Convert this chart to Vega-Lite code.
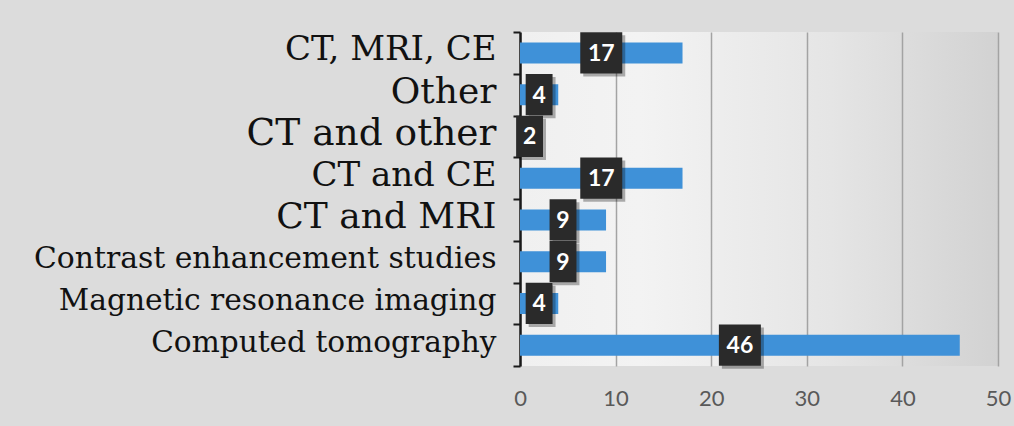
{
  "$schema": "https://vega.github.io/schema/vega-lite/v6.json",
  "width": 478,
  "height": 334,
  "autosize": {"type": "none"},
  "padding": {"left": 520, "top": 32, "right": 16, "bottom": 60},
  "background": "#dcdcdc",
  "config": {
    "view": {
      "stroke": null,
      "fill": {"gradient": "linear", "x1": 0, "y1": 0, "x2": 1, "y2": 0,
        "stops": [
          {"offset": 0, "color": "#f0f0f0"},
          {"offset": 0.25, "color": "#f3f3f3"},
          {"offset": 0.65, "color": "#e5e5e5"},
          {"offset": 1, "color": "#d2d2d2"}
        ]}
    }
  },
  "data": {
    "values": [
      {"method": "CT, MRI, CE", "value": 17},
      {"method": "Other", "value": 4},
      {"method": "CT and other", "value": 2},
      {"method": "CT and CE", "value": 17},
      {"method": "CT and MRI", "value": 9},
      {"method": "Contrast enhancement studies", "value": 9},
      {"method": "Magnetic resonance imaging", "value": 4},
      {"method": "Computed tomography", "value": 46}
    ]
  },
  "encoding": {
    "y": {
      "field": "method",
      "type": "nominal",
      "sort": null,
      "title": null,
      "scale": {"paddingInner": 0, "paddingOuter": 0},
      "axis": {
        "tickBand": "extent",
        "domainColor": "#1a1a1a",
        "domainWidth": 2.5,
        "tickColor": "#1a1a1a",
        "tickWidth": 2,
        "tickSize": 7,
        "labelPadding": 17,
        "labelFont": "DejaVu Serif",
        "labelColor": "#111111",
        "labelFontSize": {
          "condition": [
            {"test": "datum.value === 'CT, MRI, CE'", "value": 34},
            {"test": "datum.value === 'Other'", "value": 36},
            {"test": "datum.value === 'CT and other'", "value": 37.5},
            {"test": "datum.value === 'CT and CE'", "value": 34},
            {"test": "datum.value === 'CT and MRI'", "value": 36},
            {"test": "datum.value === 'Magnetic resonance imaging'", "value": 29.7},
            {"test": "datum.value === 'Computed tomography'", "value": 29.6}
          ],
          "value": 29.8
        },
        "labelBaseline": "middle",
        "labelOffset": -3,
        "labelLimit": 600,
        "grid": false
      }
    }
  },
  "layer": [
    {
      "mark": {"type": "bar", "size": 21, "color": "#3f91d8"},
      "encoding": {
        "x": {
          "field": "value",
          "type": "quantitative",
          "title": null,
          "scale": {"domain": [0, 50], "nice": false},
          "axis": {
            "values": [0, 10, 20, 30, 40, 50],
            "grid": true,
            "gridColor": "#a3a3a3",
            "gridWidth": 1.5,
            "domain": false,
            "ticks": false,
            "labelFlush": false,
            "labelFont": "Lato",
            "labelFontSize": 22,
            "labelColor": "#595959",
            "labelPadding": 22
          }
        }
      }
    },
    {
      "mark": {"type": "point", "filled": true, "color": "#000000", "opacity": 0.3, "xOffset": 3, "yOffset": 3, "size": 1764},
      "encoding": {
        "x": {"field": "value", "type": "quantitative", "stack": "zero", "bandPosition": 0.5},
        "shape": {
          "condition": {"test": "datum.value < 10", "value": "M-0.64,-0.98H0.64V0.98H-0.64Z"},
          "value": "M-1,-0.98H1V0.98H-1Z"
        }
      }
    },
    {
      "mark": {"type": "point", "filled": true, "color": "#2a2a2a", "opacity": 1, "size": 1764},
      "encoding": {
        "x": {"field": "value", "type": "quantitative", "stack": "zero", "bandPosition": 0.5},
        "shape": {
          "condition": {"test": "datum.value < 10", "value": "M-0.64,-0.98H0.64V0.98H-0.64Z"},
          "value": "M-1,-0.98H1V0.98H-1Z"
        }
      }
    },
    {
      "mark": {"type": "text", "color": "#ffffff", "font": "Lato", "fontWeight": "bold", "fontSize": 23, "align": "center", "baseline": "middle", "dy": 1},
      "encoding": {
        "x": {"field": "value", "type": "quantitative", "stack": "zero", "bandPosition": 0.5},
        "text": {"field": "value", "type": "quantitative"}
      }
    }
  ]
}
